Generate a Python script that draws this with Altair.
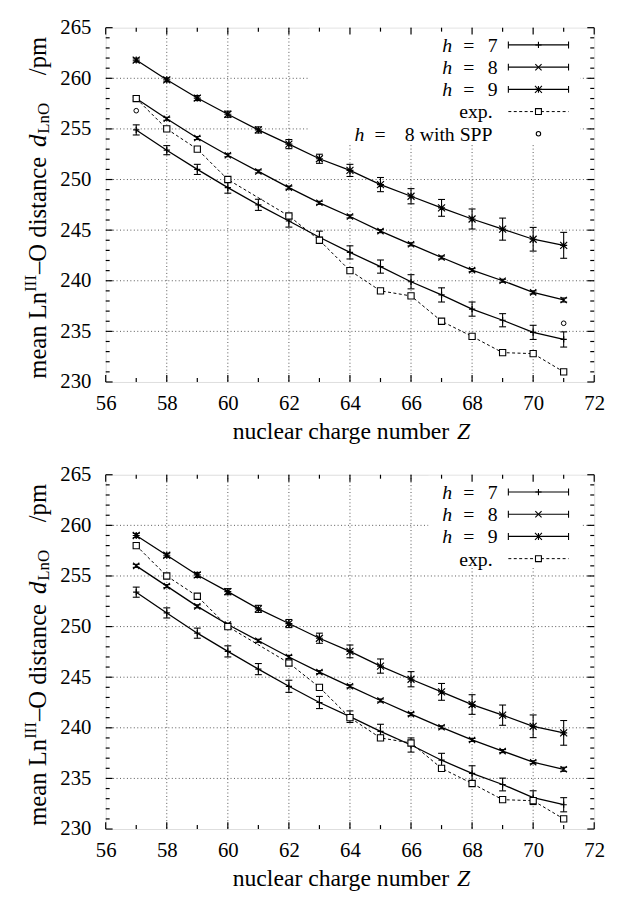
import altair as alt
import pandas as pd

# ---------------- data ----------------
Z = [57, 58, 59, 60, 61, 62, 63, 64, 65, 66, 67, 68, 69, 70, 71]

# upper panel
a_h7 = [254.9, 252.9, 251.0, 249.2, 247.5, 245.9, 244.3, 242.8, 241.4, 239.9, 238.6, 237.2, 236.1, 234.9, 234.2]
a_h7_err = [0.5, 0.45, 0.5, 0.55, 0.55, 0.6, 0.6, 0.65, 0.65, 0.7, 0.7, 0.7, 0.65, 0.7, 0.75]
a_h8 = [258.0, 256.0, 254.1, 252.4, 250.8, 249.2, 247.7, 246.35, 244.9, 243.6, 242.3, 241.05, 240.0, 238.85, 238.1]
a_h8_err = [0.15, 0.15, 0.15, 0.15, 0.15, 0.15, 0.15, 0.15, 0.15, 0.15, 0.15, 0.15, 0.15, 0.15, 0.2]
a_h9 = [261.8, 259.85, 258.05, 256.45, 254.9, 253.5, 252.05, 250.9, 249.5, 248.35, 247.2, 246.1, 245.1, 244.1, 243.5]
a_h9_err = [0.2, 0.2, 0.25, 0.3, 0.3, 0.45, 0.45, 0.6, 0.7, 0.75, 0.83, 0.99, 1.09, 1.17, 1.28]

# lower panel
b_h7 = [253.4, 251.35, 249.35, 247.55, 245.8, 244.1, 242.5, 241.1, 239.65, 238.3, 236.8, 235.5, 234.4, 233.1, 232.4]
b_h7_err = [0.5, 0.5, 0.5, 0.55, 0.55, 0.6, 0.6, 0.57, 0.7, 0.7, 0.68, 0.75, 0.63, 0.68, 0.7]
b_h8 = [256.0, 254.0, 252.0, 250.2, 248.6, 247.0, 245.5, 244.1, 242.7, 241.35, 240.05, 238.8, 237.7, 236.6, 235.9]
b_h8_err = [0.15, 0.15, 0.15, 0.15, 0.15, 0.15, 0.15, 0.15, 0.15, 0.15, 0.15, 0.15, 0.15, 0.15, 0.2]
b_h9 = [259.0, 257.05, 255.1, 253.45, 251.75, 250.3, 248.85, 247.55, 246.1, 244.8, 243.55, 242.3, 241.25, 240.15, 239.5]
b_h9_err = [0.2, 0.2, 0.25, 0.3, 0.35, 0.4, 0.5, 0.63, 0.7, 0.75, 0.83, 0.97, 1.0, 1.12, 1.22]

# experiment (no value for Z = 61)
exp_Z = [57, 58, 59, 60, 62, 63, 64, 65, 66, 67, 68, 69, 70, 71]
exp_d = [258.0, 255.0, 253.0, 250.0, 246.4, 244.0, 241.0, 239.0, 238.5, 236.0, 234.5, 232.9, 232.8, 231.0]

# h = 8 with SPP
spp_Z = [57, 71]
spp_d = [256.8, 235.8]

x_major = [56, 58, 60, 62, 64, 66, 68, 70, 72]
x_minor = [57, 59, 61, 63, 65, 67, 69, 71]
x_grid = [58, 60, 62, 64, 66, 68, 70]
y_major = [230, 235, 240, 245, 250, 255, 260, 265]
y_minor = [v for v in range(230, 266) if v % 5]
y_grid = [235, 240, 245, 250, 255, 260]

# ---------------- styling ----------------
W, H = 495, 359
FONT = "Liberation Serif"
TICK_FS = 21
TITLE_FS = 24
LEG_FS = 20

P_PLUS = "M-1,0L1,0M0,-1L0,1"
P_CROSS = "M-1,-1L1,1M-1,1L1,-1"
P_STAR = "M-1,0L1,0M0,-1L0,1M-1,-1L1,1M-1,1L1,-1"

xs = alt.Scale(domain=[56, 72], nice=False, zero=False)
ys = alt.Scale(domain=[230, 265], nice=False, zero=False)
AXX = alt.Axis(values=x_major, title=None, ticks=False, tickSize=0, domain=False,
               grid=False, labelFont=FONT, labelFontSize=TICK_FS,
               labelColor="black", labelPadding=11, labelFlush=False,
               labelOverlap=False, format="d")
AXY = alt.Axis(values=y_major, title=None, ticks=False, tickSize=0, domain=False,
               grid=False, labelFont=FONT, labelFontSize=TICK_FS,
               labelColor="black", labelPadding=15, labelFlush=False,
               labelOverlap=False, format="d")
one = pd.DataFrame({"k": [0]})


def X(f):
    return alt.X(f, type="quantitative", scale=xs, axis=AXX)


def Y(f):
    return alt.Y(f, type="quantitative", scale=ys, axis=AXY)


def txt(text, x, y, size, align="left", baseline="alphabetic", italic=False, angle=0):
    kw = dict(text=text, font=FONT, fontSize=size, align=align, baseline=baseline,
              color="black")
    if italic:
        kw["fontStyle"] = "italic"
    if angle:
        kw["angle"] = angle
    return alt.Chart(one).mark_text(**kw).encode(x=alt.value(x), y=alt.value(y))


def series_df(vals, errs):
    return pd.DataFrame({"Z": Z, "d": vals,
                         "lo": [v - e for v, e in zip(vals, errs)],
                         "hi": [v + e for v, e in zip(vals, errs)]})


def marker(shp, sz, x, y):
    kw = dict(shape=shp, size=sz, filled=False, color="black", strokeWidth=1.1, opacity=1)
    if shp == "square":
        kw["fill"] = "white"
    return alt.Chart(one).mark_point(**kw).encode(x=alt.value(x), y=alt.value(y))


def panel(sets, with_spp, box):
    layers = []
    grid_style = dict(color="#444", strokeWidth=0.9, strokeDash=[1, 2.5])
    layers.append(alt.Chart(pd.DataFrame({"g": x_grid})).mark_rule(**grid_style).encode(x=X("g")))
    layers.append(alt.Chart(pd.DataFrame({"g": y_grid})).mark_rule(**grid_style).encode(y=Y("g")))
    # opaque legend box
    layers.append(alt.Chart(one).mark_rect(fill="white").encode(
        x=alt.value(box[0]), x2=alt.value(box[1]), y=alt.value(1), y2=alt.value(box[2])))

    # experimental dashed line
    edf = pd.DataFrame({"Z": exp_Z, "d": exp_d})
    layers.append(alt.Chart(edf).mark_line(color="black", strokeWidth=1, strokeDash=[3, 2.5]).encode(
        x=X("Z"), y=Y("d")))

    for vals, errs, path, size in sets:
        df = series_df(vals, errs)
        layers.append(alt.Chart(df).mark_line(color="black", strokeWidth=1.3).encode(x=X("Z"), y=Y("d")))
        layers.append(alt.Chart(df).mark_rule(color="black", strokeWidth=1.1).encode(
            x=X("Z"), y=Y("lo"), y2=alt.Y2("hi")))
        for f in ("lo", "hi"):
            layers.append(alt.Chart(df).mark_tick(orient="horizontal", size=7, thickness=1.1,
                                                  color="black", opacity=1).encode(x=X("Z"), y=Y(f)))
        layers.append(alt.Chart(df).mark_point(shape=path, size=size, filled=False, color="black",
                                               strokeWidth=1.2, opacity=1).encode(x=X("Z"), y=Y("d")))

    layers.append(alt.Chart(edf).mark_point(shape="square", size=40, filled=False, color="black",
                                            fill="white", strokeWidth=1.1, opacity=1).encode(x=X("Z"), y=Y("d")))
    if with_spp:
        sdf = pd.DataFrame({"Z": spp_Z, "d": spp_d})
        layers.append(alt.Chart(sdf).mark_point(shape="circle", size=22, filled=False, color="black",
                                                strokeWidth=1, opacity=1).encode(x=X("Z"), y=Y("d")))

    # inward frame ticks on all four sides
    for vals, ln in ((x_major, 7), (x_minor, 4)):
        d = pd.DataFrame({"t": vals})
        for yy in (ln / 2, H - ln / 2):
            layers.append(alt.Chart(d).mark_tick(orient="vertical", size=ln, thickness=1.2,
                                                 color="black", opacity=1).encode(
                x=X("t"), y=alt.value(yy)))
    for vals, ln in ((y_major, 7), (y_minor, 4)):
        d = pd.DataFrame({"t": vals})
        for xx in (ln / 2, W - ln / 2):
            layers.append(alt.Chart(d).mark_tick(orient="horizontal", size=ln, thickness=1.2,
                                                 color="black", opacity=1).encode(
                y=Y("t"), x=alt.value(xx)))

    # legend
    rows = [("7", P_PLUS, 40, "line"), ("8", P_CROSS, 40, "line"), ("9", P_STAR, 50, "line"),
            ("exp.", "square", 36, "dash")]
    if with_spp:
        rows.append(("8 with SPP", "circle", 20, "none"))
    x0, x1, xm = 408, 469, 438.5
    for i, (lab, shp, sz, kind) in enumerate(rows):
        yc = 17.5 + 22.5 * i
        yb = yc + 7
        if lab == "exp.":
            layers.append(txt("exp.", 392, yb, LEG_FS, align="right"))
        elif lab == "8 with SPP":
            layers.append(txt("h", 262, yb, LEG_FS, align="right", italic=True))
            layers.append(txt("=", 278, yb, LEG_FS, align="center"))
            layers.append(txt(lab, 392, yb, LEG_FS, align="right"))
        else:
            layers.append(txt("h", 351, yb, LEG_FS, align="right", italic=True))
            layers.append(txt("=", 368, yb, LEG_FS, align="center"))
            layers.append(txt(lab, 397, yb, LEG_FS, align="right"))
        if kind == "line":
            layers.append(alt.Chart(one).mark_rule(color="black", strokeWidth=1.2).encode(
                x=alt.value(x0), x2=alt.value(x1), y=alt.value(yc)))
            for xx in (x0, x1):
                layers.append(alt.Chart(one).mark_rule(color="black", strokeWidth=1.1).encode(
                    x=alt.value(xx), y=alt.value(yc - 3.5), y2=alt.value(yc + 3.5)))
        elif kind == "dash":
            layers.append(alt.Chart(one).mark_rule(color="black", strokeWidth=1,
                                                   strokeDash=[3, 2.5]).encode(
                x=alt.value(x0), x2=alt.value(x1), y=alt.value(yc)))
        layers.append(marker(shp, sz, xm, yc))

    # x title
    layers.append(txt("nuclear charge number", 348, H + 58, TITLE_FS, align="right"))
    layers.append(txt("Z", 356, H + 58, TITLE_FS, align="left", italic=True))

    # y title (rotated, composed of pieces, reading bottom to top)
    bx = -61
    fs, ss = 25, 17
    w = [("mean Ln", 88.2), ("III", 17.0), ("\u2013O distance", 118.7), ("d", 12.5),
         ("LnO", 31.2), ("/pm", 38.9)]
    gaps = [0, 1, 10, 1, 28]
    total = sum(v for _, v in w) + sum(gaps)
    y = H / 2 + 3 + total / 2
    pos = []
    for i, (t, v) in enumerate(w):
        pos.append(y)
        y -= v
        if i < len(gaps):
            y -= gaps[i]
    layers.append(txt("mean Ln", bx, pos[0], fs, angle=270))
    layers.append(txt("III", bx - 10, pos[1], ss, angle=270))
    layers.append(txt("\u2013O distance", bx, pos[2], fs, angle=270))
    layers.append(txt("d", bx, pos[3], fs, angle=270, italic=True))
    layers.append(txt("LnO", bx + 4, pos[4], ss, angle=270))
    layers.append(txt("/pm", bx, pos[5], fs, angle=270))

    return alt.layer(*layers).properties(width=W, height=H)


top = panel([(a_h7, a_h7_err, P_PLUS, 40), (a_h8, a_h8_err, P_CROSS, 40),
             (a_h9, a_h9_err, P_STAR, 50)], True, (206, 481, 117))
bottom = panel([(b_h7, b_h7_err, P_PLUS, 40), (b_h8, b_h8_err, P_CROSS, 40),
                (b_h9, b_h9_err, P_STAR, 50)], False, (327, 482, 94))

chart = alt.vconcat(top, bottom, spacing=94, bounds="flush").properties(
    padding={"left": 13, "top": 2, "right": 5, "bottom": 5}
).configure_view(stroke="black", strokeWidth=1.5).configure(background="white")

chart.save("out.html", embed_options={"renderer": "svg", "actions": False})
